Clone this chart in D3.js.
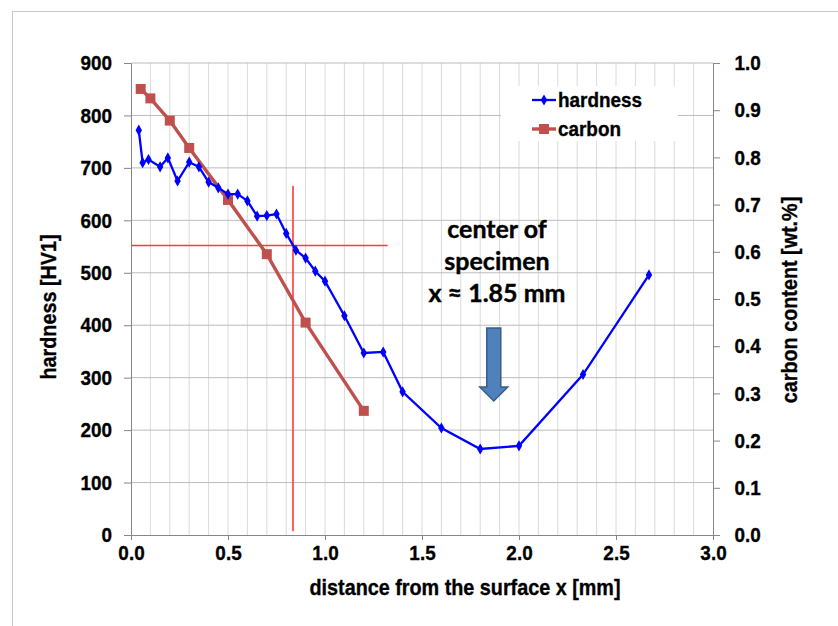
<!DOCTYPE html>
<html>
<head>
<meta charset="utf-8">
<script src="https://cdn.jsdelivr.net/npm/d3@7"></script>
<style>
  body { margin: 0; background: #fff; }
  text { font-family: "Liberation Sans", Arial, sans-serif; font-weight: bold; fill: #000; stroke: #000; stroke-width: 0.35px; }
  .note { font-family: Lato, "Open Sans", sans-serif; stroke-width: 0.4px; }
</style>
</head>
<body>
<svg id="chart" width="838" height="626"></svg>
<script>
// hardness profile [HV1]
const hardX = [0.04, 0.06, 0.09, 0.15, 0.19, 0.24, 0.30, 0.35, 0.40, 0.45, 0.50, 0.55, 0.60, 0.65, 0.70,
               0.75, 0.80, 0.85, 0.90, 0.95, 1.00, 1.10, 1.20, 1.30, 1.40, 1.60, 1.80, 2.00, 2.33, 2.67];
const hardY = [772, 710, 716, 702, 719, 675, 711, 702, 673, 662, 650, 650, 637, 608, 609,
               612, 575, 543, 528, 503, 484, 418, 347, 349, 273, 204, 164, 170, 306, 496];
// carbon content [wt.%]
const carbX = [0.05, 0.10, 0.20, 0.30, 0.50, 0.70, 0.90, 1.20];
const carbY = [0.945, 0.925, 0.878, 0.820, 0.710, 0.595, 0.450, 0.263];

const xTicks = [0, 0.5, 1.0, 1.5, 2.0, 2.5, 3.0];
const yTicks = [0, 100, 200, 300, 400, 500, 600, 700, 800, 900];
const yRTicks = [0, 0.1, 0.2, 0.3, 0.4, 0.5, 0.6, 0.7, 0.8, 0.9, 1.0];

// red crosshair: x = 0.835 mm, hardness = 552
const crossX = 0.835, crossY = 552;
const centerX = 1.87;

const svg = d3.select('#chart');
const x = d3.scaleLinear().domain([0, 3]).range([131, 713]);
const y = d3.scaleLinear().domain([0, 900]).range([535, 63]);
const yR = d3.scaleLinear().domain([0, 1]).range([535, 63]);

// outer frame
svg.append('rect')
    .attr('x', 12.5).attr('y', 11.5)
    .attr('width', 900).attr('height', 700)
    .attr('fill', 'none')
    .attr('stroke', '#c8c8c8');

/**
 * Grid
 */
const grid = svg.append('g');
grid.selectAll('.vgrid')
    .data(d3.range(1, 30).map(i => i / 10))
    .enter().append('line')
    .attr('x1', d => x(d)).attr('x2', d => x(d))
    .attr('y1', y(900)).attr('y2', y(0))
    .style('stroke', '#dadada')
    .style('stroke-width', 1);
grid.selectAll('.hgrid')
    .data(yTicks.slice(1))
    .enter().append('line')
    .attr('x1', x(0)).attr('x2', x(3))
    .attr('y1', d => y(d)).attr('y2', d => y(d))
    .style('stroke', '#bcbcbc')
    .style('stroke-width', 1);

/**
 * Axes
 */
const axisColor = '#868686';
const gx = svg.append('g')
    .attr('transform', `translate(0, ${y(0)})`)
    .call(d3.axisBottom(x).tickValues(xTicks).tickFormat(d3.format('.1f')).tickSizeOuter(0).tickSize(5).tickPadding(5));
const gy = svg.append('g')
    .attr('transform', `translate(${x(0)}, 0)`)
    .call(d3.axisLeft(y).tickValues(yTicks).tickFormat(d3.format('d')).tickSizeOuter(0).tickSize(7).tickPadding(14));
const gyR = svg.append('g')
    .attr('transform', `translate(${x(3)}, 0)`)
    .call(d3.axisRight(yR).tickValues(yRTicks).tickFormat(d3.format('.1f')).tickSizeOuter(0).tickSize(7).tickPadding(17));

[gx, gy, gyR].forEach(g => {
    g.select('.domain').style('stroke', axisColor);
    g.selectAll('.tick line').style('stroke', axisColor);
    g.selectAll('.tick text')
        .attr('transform', 'scale(0.9, 1)')
        .style('font-family', '"Liberation Sans", Arial, sans-serif')
        .style('font-weight', 'bold')
        .style('font-size', '21px')
        .style('fill', '#000')
        .style('stroke', '#000')
        .style('stroke-width', '0.35px');
});

svg.append('text')
    .attr('transform', 'translate(465, 595) scale(0.9, 1)')
    .attr('text-anchor', 'middle')
    .style('font-size', '22px')
    .text('distance from the surface x [mm]');
svg.append('text')
    .attr('transform', 'translate(56, 307) rotate(-90) scale(0.9, 1)')
    .attr('text-anchor', 'middle')
    .style('font-size', '22px')
    .text('hardness [HV1]');
svg.append('text')
    .attr('transform', 'translate(797, 300) rotate(-90) scale(0.9, 1)')
    .attr('text-anchor', 'middle')
    .style('font-size', '22px')
    .text('carbon content [wt.%]');

/**
 * Crosshair
 */
svg.append('line')
    .attr('x1', x(0)).attr('x2', x(1.323))
    .attr('y1', 245.5).attr('y2', 245.5)
    .attr('data-hardness', crossY)
    .style('stroke', '#ff3b3b').style('stroke-width', 1.3);
svg.append('line')
    .attr('x1', x(crossX)).attr('x2', x(crossX))
    .attr('y1', y(666)).attr('y2', y(7))
    .style('stroke', '#ff3b3b').style('stroke-width', 1.6);

/**
 * Legend box (white, covers grid)
 */
svg.append('rect')
    .attr('x', 501).attr('y', 86)
    .attr('width', 177).attr('height', 55)
    .attr('fill', '#fff');

/**
 * Series
 */
const hard = hardX.map((d, i) => [d, hardY[i]]);
const carb = carbX.map((d, i) => [d, carbY[i]]);

svg.append('path')
    .datum(carb)
    .attr('d', d3.line().x(d => x(d[0])).y(d => yR(d[1])))
    .attr('fill', 'none')
    .style('stroke', '#c0504d')
    .style('stroke-width', 3.4);
svg.selectAll('.cm')
    .data(carb)
    .enter().append('rect')
    .attr('x', d => x(d[0]) - 5).attr('y', d => yR(d[1]) - 5)
    .attr('width', 10).attr('height', 10)
    .attr('fill', '#c0504d');

svg.append('path')
    .datum(hard)
    .attr('d', d3.line().x(d => x(d[0])).y(d => y(d[1])))
    .attr('fill', 'none')
    .style('stroke', '#0000ff')
    .style('stroke-width', 2.3);
svg.selectAll('.hm')
    .data(hard)
    .enter().append('path')
    .attr('transform', d => `translate(${x(d[0])}, ${y(d[1])})`)
    .attr('d', d3.symbol().type(d3.symbolDiamond).size(36))
    .attr('fill', '#0000ff');

/**
 * Legend entries
 */
const legend = svg.append('g');
legend.append('line')
    .attr('x1', 532).attr('x2', 556).attr('y1', 100).attr('y2', 100)
    .style('stroke', '#0000ff').style('stroke-width', 2.3);
legend.append('path')
    .attr('transform', 'translate(544, 100)')
    .attr('d', d3.symbol().type(d3.symbolDiamond).size(36))
    .attr('fill', '#0000ff');
legend.append('text')
    .attr('transform', 'translate(558, 107) scale(0.9, 1)')
    .style('font-size', '21px')
    .text('hardness');
legend.append('line')
    .attr('x1', 532).attr('x2', 556).attr('y1', 129).attr('y2', 129)
    .style('stroke', '#c0504d').style('stroke-width', 3.4);
legend.append('rect')
    .attr('x', 539).attr('y', 124).attr('width', 10).attr('height', 10)
    .attr('fill', '#c0504d');
legend.append('text')
    .attr('transform', 'translate(558, 136) scale(0.9, 1)')
    .style('font-size', '21px')
    .text('carbon');

/**
 * Center of specimen note + arrow
 */
const note = svg.append('text')
    .attr('class', 'note')
    .attr('text-anchor', 'middle')
    .style('font-size', '25px');
['center of', 'specimen', 'x \u2248 1.85 mm'].forEach((t, i) => {
    note.append('tspan')
        .attr('x', 497)
        .attr('y', 238 + i * 32)
        .text(t);
});

const ax = x(centerX);
const arrowTop = 328, arrowNeck = 387, arrowTip = 401;
svg.append('path')
    .attr('d', `M${ax - 7},${arrowTop} L${ax + 7},${arrowTop} L${ax + 7},${arrowNeck}
                L${ax + 14},${arrowNeck} L${ax},${arrowTip} L${ax - 14},${arrowNeck}
                L${ax - 7},${arrowNeck} Z`)
    .attr('fill', '#4f81bd')
    .style('stroke', '#385d8a')
    .style('stroke-width', 1.5);
</script>
</body>
</html>
